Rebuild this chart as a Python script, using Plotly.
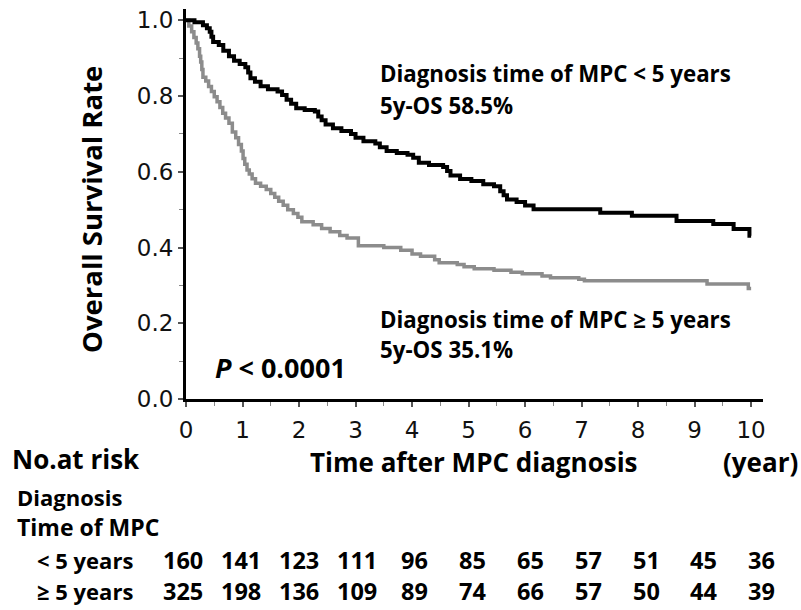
import plotly.graph_objects as go

# ---- data ----
t_lt5 = [0, 0.15, 0.30, 0.37, 0.42, 0.45, 0.48, 0.58, 0.66, 0.76, 0.85, 0.95, 1.05, 1.10, 1.14,
         1.22, 1.32, 1.45, 1.62, 1.70, 1.78, 1.86, 1.95, 2.10, 2.28, 2.34, 2.40, 2.47, 2.60, 2.75,
         2.92, 3.00, 3.14, 3.35, 3.43, 3.55, 3.73, 3.92, 4.02, 4.12, 4.30, 4.55, 4.62, 4.68, 4.85,
         5.05, 5.26, 5.45, 5.56, 5.62, 5.68, 5.85, 6.00, 6.15, 7.33, 7.89, 8.68, 9.33, 9.69, 9.97, 10.0]
s_lt5 = [1.0, 0.995, 0.987, 0.979, 0.970, 0.957, 0.943, 0.935, 0.920, 0.905, 0.893, 0.885, 0.876, 0.862, 0.847,
         0.838, 0.826, 0.818, 0.812, 0.803, 0.790, 0.780, 0.768, 0.763, 0.759, 0.746, 0.736, 0.725, 0.715, 0.708,
         0.700, 0.690, 0.681, 0.675, 0.665, 0.655, 0.650, 0.645, 0.637, 0.624, 0.618, 0.613, 0.602, 0.590, 0.581,
         0.576, 0.567, 0.562, 0.549, 0.538, 0.527, 0.520, 0.511, 0.501, 0.492, 0.484, 0.470, 0.462, 0.449, 0.431, 0.431]

t_ge5 = [0, 0.05, 0.10, 0.14, 0.18, 0.21, 0.24, 0.26, 0.28, 0.30, 0.35, 0.40, 0.45, 0.50, 0.55, 0.60,
         0.65, 0.70, 0.76, 0.82, 0.88, 0.93, 0.98, 1.01, 1.04, 1.08, 1.12, 1.17, 1.23, 1.32, 1.42, 1.50,
         1.57, 1.64, 1.72, 1.80, 1.90, 1.98, 2.05, 2.25, 2.40, 2.55, 2.72, 2.85, 3.05, 3.50, 3.80, 4.00,
         4.15, 4.40, 4.48, 4.80, 4.92, 5.10, 5.45, 5.75, 5.95, 6.30, 6.45, 6.95, 7.05, 9.22, 9.95, 10.0]
s_ge5 = [1.0, 0.985, 0.970, 0.955, 0.940, 0.925, 0.905, 0.890, 0.870, 0.850, 0.840, 0.825, 0.812, 0.798, 0.785, 0.770,
         0.755, 0.742, 0.728, 0.705, 0.690, 0.672, 0.655, 0.635, 0.620, 0.605, 0.594, 0.582, 0.570, 0.562, 0.553, 0.543,
         0.533, 0.522, 0.512, 0.500, 0.490, 0.480, 0.468, 0.460, 0.450, 0.442, 0.432, 0.425, 0.405, 0.400, 0.393, 0.383,
         0.377, 0.368, 0.360, 0.355, 0.349, 0.344, 0.340, 0.335, 0.331, 0.325, 0.320, 0.316, 0.312, 0.304, 0.292, 0.292]

risk_years = list(range(0, 11))
risk_lt5 = [160, 141, 123, 111, 96, 85, 65, 57, 51, 45, 36]
risk_ge5 = [325, 198, 136, 109, 89, 74, 66, 57, 50, 44, 39]
row_labels = ["< 5 years", "\u2265 5 years"]

# ---- layout geometry (pixels) ----
W, H = 801, 610
L, R, T, B = 186, 38, 7, 211
PW, PH = W - L - R, H - T - B
XMAX = 10.21


def px(x):
    return (x - L) / PW


def py(y):
    return (H - B - y) / PH


def xdata_to_paper(v):
    return v / XMAX


BOLD = "Open Sans"
TICKF = "DejaVu Sans"

fig = go.Figure()
fig.add_trace(go.Scatter(x=t_ge5, y=s_ge5, mode="lines", line=dict(color="#8c8c8c", width=3.5, shape="hv"),
                         showlegend=False, hoverinfo="skip"))
fig.add_trace(go.Scatter(x=t_lt5, y=s_lt5, mode="lines", line=dict(color="#000000", width=4, shape="hv"),
                         showlegend=False, hoverinfo="skip"))

ann = []


def text(x, y, s, size, xanchor="left", angle=0, color="#000"):
    ann.append(dict(x=px(x), y=py(y), xref="paper", yref="paper", text=s, showarrow=False,
                    xanchor=xanchor, yanchor="middle", textangle=angle,
                    font=dict(family=BOLD, size=size, color=color, weight="bold")))


text(378, 72, "Diagnosis time of MPC &lt; 5 years", 22.3)
text(378, 104, "5y-OS 58.5%", 22.3)
text(378, 319, "Diagnosis time of MPC \u2265 5 years", 22.3)
text(378, 349, "5y-OS 35.1%", 22.3)
text(213, 367, "<i>P</i> &lt; 0.0001", 27)
text(92, 208, "Overall Survival Rate", 27.5, xanchor="center", angle=-90)
text(308, 462, "Time after MPC diagnosis", 26)
text(721, 462, "(year)", 26)
text(10, 459, "No.at risk", 26)
text(15, 498, "Diagnosis", 22)
text(15, 528, "Time of MPC", 23)
text(35, 561, row_labels[0], 22)
text(35, 592, row_labels[1], 22)

# risk table numbers, positioned on the time axis
for i, yr in enumerate(risk_years):
    xpos = xdata_to_paper(-0.053 + yr * 1.0243)
    for val, ypix in ((risk_lt5[i], 561), (risk_ge5[i], 592)):
        ann.append(dict(x=xpos, y=py(ypix), xref="paper", yref="paper", text=str(val), showarrow=False,
                        xanchor="center", yanchor="middle",
                        font=dict(family=BOLD, size=23.5, color="#000", weight="bold")))

fig.update_layout(
    width=W, height=H, margin=dict(l=L, r=R, t=T, b=B),
    paper_bgcolor="white", plot_bgcolor="white",
    annotations=ann,
    xaxis=dict(range=[0, XMAX], showgrid=False, zeroline=False, showline=True, linecolor="#000", linewidth=3,
               ticks="outside", ticklen=5, tickwidth=1.5, tickcolor="#555", dtick=1, tick0=0,
               ticklabelstandoff=3,
               tickfont=dict(family=TICKF, size=23, color="#111"),
               minor=dict(ticks="outside", dtick=0.5, ticklen=4, tickcolor="#888", tickwidth=1)),
    yaxis=dict(range=[0, 1.03], showgrid=False, zeroline=False, showline=True, linecolor="#000", linewidth=3,
               ticks="outside", ticklen=5, tickwidth=1.5, tickcolor="#555", dtick=0.2, tick0=0, tickformat=".1f",
               tickfont=dict(family=TICKF, size=23, color="#111"),
               minor=dict(ticks="outside", dtick=0.1, ticklen=4, tickcolor="#888", tickwidth=1)),
)

fig.write_html("out.html", config={"displayModeBar": False},
               post_script="document.body.style.margin='0px';document.body.style.overflow='hidden';")
